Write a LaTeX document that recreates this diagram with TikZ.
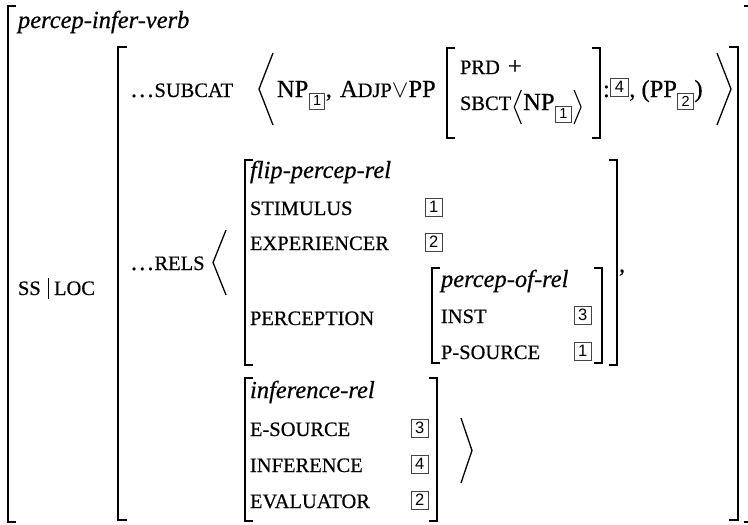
\documentclass[tikz,border=0pt]{standalone}
\usepackage{fontspec}
\setmainfont{Liberation Serif}[FakeBold=0.5]
\setsansfont{Liberation Sans}
\usetikzlibrary{calc}
\definecolor{tagc}{HTML}{444444}
\newcommand\kf{\fontsize{20.5}{24}\selectfont}
\tikzset{
  txt/.style={inner sep=0pt, outer sep=0pt, anchor=base west, font=\fontsize{24.5}{29}\selectfont},
  key/.style={inner sep=0pt, outer sep=0pt, anchor=base west, font=\kf},
  typ/.style={inner sep=0pt, outer sep=0pt, anchor=base west, font=\fontsize{24.5}{29}\selectfont\itshape},
  tagbox/.style={draw=tagc, line width=1pt, inner sep=0pt, outer sep=0pt, minimum width=17.5pt, minimum height=18pt, font=\sffamily\fontsize{16.5}{16.5}\selectfont, anchor=south west},
  subtag/.style={draw=tagc, line width=1pt, inner sep=0pt, outer sep=0pt, minimum width=15.5pt, minimum height=16pt, font=\sffamily\fontsize{14.5}{14.5}\selectfont, anchor=north west},
  brk/.style={line width=1.7pt},
  ang/.style={line width=1.3pt, line join=miter},
  angs/.style={line width=1.1pt, line join=miter},
}
\begin{document}
\begin{tikzpicture}[x=1pt,y=-1pt]
\useasboundingbox (0,0) rectangle (748,525);
\clip (0,0) rectangle (748,525);
% outer brackets
\draw[brk] (16,6) -- (8,6) -- (8,522) -- (16,522);
\draw[brk] (744,6) -- (749.5,6) -- (749.5,522) -- (744,522);
\node[typ] (t0) at (18,28) {percep-infer-verb};
% SS|LOC
\node[key] (ss) at (18,295) {SS};
\draw[line width=1pt] (48,278) -- (48,299);
\node[key] (loc) at (54,295) {LOC};
% second-level brackets
\draw[brk] (127,47) -- (118,47) -- (118,520) -- (127,520);
\draw[brk] (729,47) -- (738,47) -- (738,520) -- (729,520);
% SUBCAT row
\node[txt] (subl) at (130,97) {\ldots};
\node[key] (sub) at (subl.base east) {SUBCAT};
\draw[ang] (273,53) -- (259,89) -- (273,125);
\node[txt] (np1) at (277,97) {NP};
\node[subtag] (np1t) at ([xshift=1pt,yshift=4pt]np1.base east) {1};
\node[txt] (c1) at ([xshift=1pt]np1t.east |- np1.base) {,};
\node[txt] (adjp) at (340,97) {A{\kf DJP}$\vee$PP};
% inner PRD/SBCT matrix
\draw[brk] (455,48) -- (447,48) -- (447,138) -- (455,138);
\draw[brk] (592,48) -- (600,48) -- (600,138) -- (592,138);
\node[key] (prd) at (460,74) {PRD};
\node[txt] (plus) at (508,74) {+};
\node[key] (sbct) at (460,110) {SBCT};
\coordinate (la) at ([xshift=3pt]sbct.base east);
\draw[angs] ($(la)+(7,-20)$) -- ($(la)+(0,-3)$) -- ($(la)+(7,14)$);
\node[txt] (np2) at ($(la)+(9,0)$) {NP};
\node[subtag] (np2t) at ([xshift=1pt,yshift=4pt]np2.base east) {1};
\coordinate (ra) at ([xshift=3pt]np2t.east |- np2.base);
\draw[angs] ($(ra)+(0,-20)$) -- ($(ra)+(7,-3)$) -- ($(ra)+(0,14)$);
% :4, (PP2)
\node[txt] (colon) at (603,97) {:};
\node[tagbox] (t4) at ([xshift=1pt,yshift=1pt]colon.base east) {4};
\node[txt] (pp) at ([xshift=1pt]t4.east |- colon.base) {, (PP};
\node[subtag] (ppt) at ([xshift=1pt,yshift=4pt]pp.base east) {2};
\node[txt] (rp) at ([xshift=1pt]ppt.east |- pp.base) {)};
\draw[ang] (717,53) -- (731,89) -- (717,125);
% RELS row
\node[txt] (rl) at (130,270) {\ldots};
\node[key] (rels) at (rl.base east) {RELS};
\draw[ang] (226,230) -- (213,262.5) -- (226,295);
% flip-percep-rel
\draw[brk] (253,160) -- (245,160) -- (245,365) -- (253,365);
\draw[brk] (609,160) -- (617,160) -- (617,365) -- (609,365);
\node[typ] (cm) at (619,272) {,};
\node[typ] (fpr) at (250,178) {flip-percep-rel};
\node[key] (stim) at (250,215) {STIMULUS};
\node[tagbox] (ts1) at (425,216) {1};
\node[key] (expr) at (250,250) {EXPERIENCER};
\node[tagbox] (te2) at (425,251) {2};
\node[key] (perc) at (250,325) {PERCEPTION};
% percep-of-rel
\draw[brk] (440,268) -- (432,268) -- (432,363) -- (440,363);
\draw[brk] (594,268) -- (602,268) -- (602,363) -- (594,363);
\node[typ] (por) at (441,287) {percep-of-rel};
\node[key] (inst) at (441,323) {INST};
\node[tagbox] (ti3) at (574,324) {3};
\node[key] (psrc) at (441,359) {P-SOURCE};
\node[tagbox] (tp1) at (574,360) {1};
% inference-rel
\draw[brk] (253,378) -- (245,378) -- (245,521) -- (253,521);
\draw[brk] (429,378) -- (437,378) -- (437,521) -- (429,521);
\node[typ] (ir) at (250,398) {inference-rel};
\node[key] (esrc) at (250,436) {E-SOURCE};
\node[tagbox] (te3) at (411,437) {3};
\node[key] (inf) at (250,472) {INFERENCE};
\node[tagbox] (tf4) at (411,473) {4};
\node[key] (eval) at (250,508) {EVALUATOR};
\node[tagbox] (tv2) at (411,509) {2};
\draw[ang] (461,418) -- (472,450.5) -- (461,483);
\end{tikzpicture}
\end{document}
